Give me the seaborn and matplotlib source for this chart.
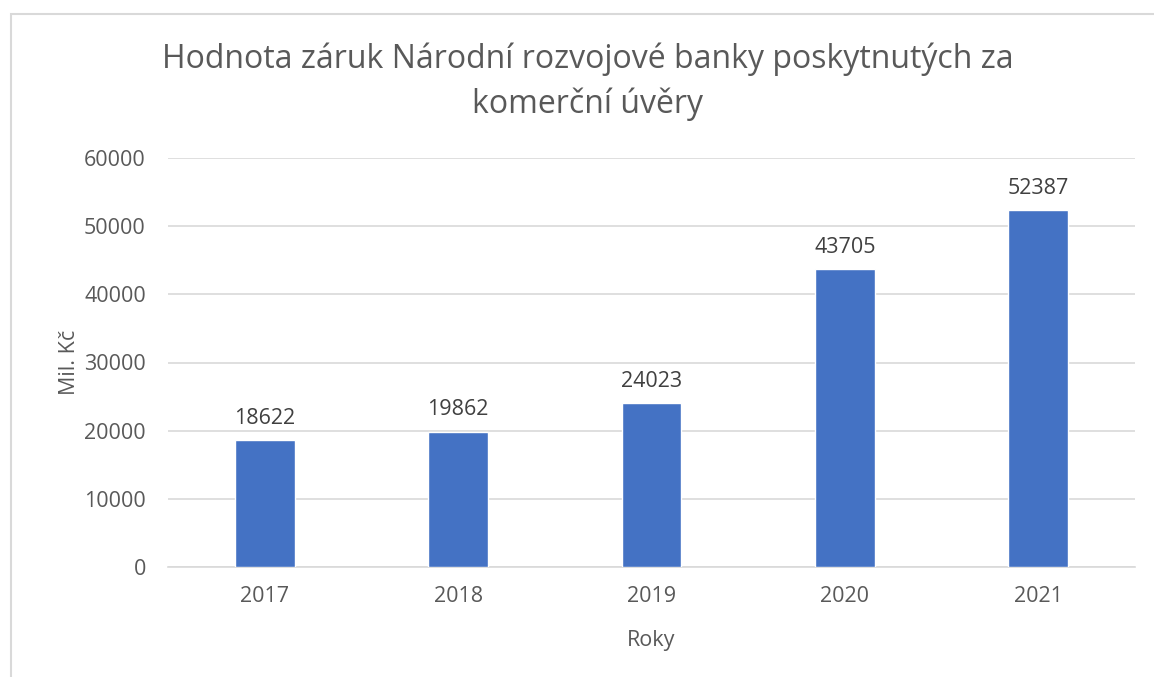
import matplotlib
matplotlib.use("Agg")
import matplotlib.pyplot as plt
import seaborn as sns
import pandas as pd
from matplotlib.patches import Rectangle

years = ["2017", "2018", "2019", "2020", "2021"]
values = [18622, 19862, 24023, 43705, 52387]
yticks = [0, 10000, 20000, 30000, 40000, 50000, 60000]
title = "Hodnota záruk Národní rozvojové banky poskytnutých za\nkomerční úvěry"

sns.set_theme(style="white")
plt.rcParams['font.family'] = ['Open Sans', 'DejaVu Sans']

df = pd.DataFrame({"Rok": years, "Hodnota": values})

fig = plt.figure(figsize=(11.54, 6.77), dpi=100)
ax = fig.add_axes([168/1154, 1-567/677, (1135-168)/1154, (567-158)/677])

sns.barplot(data=df, x="Rok", y="Hodnota", color="#4472c4", width=0.31,
            saturation=1, ax=ax, zorder=3)

ax.set_ylim(0, 60000)
ax.set_xlim(-0.5, 4.5)
ax.set_yticks(yticks)
ax.set_yticklabels([str(t) for t in yticks])
ax.grid(axis="y", color="#d9d9d9", linewidth=1.2, zorder=0)
ax.grid(axis="x", visible=False)
for s in ["top", "right", "left"]:
    ax.spines[s].set_visible(False)
ax.spines["bottom"].set_color("#d9d9d9")
ax.spines["bottom"].set_linewidth(1.2)
ax.tick_params(axis="both", length=0, labelsize=15.5, labelcolor="#595959")
ax.tick_params(axis="y", pad=16)
ax.tick_params(axis="x", pad=14)

for c in ax.containers:
    ax.bar_label(c, labels=[str(v) for v in values], padding=8, fontsize=15.5,
                 color="#404040")

ax.set_xlabel("Roky", fontsize=15.5, color="#595959", labelpad=16)
ax.set_ylabel("Mil. Kč", fontsize=15.5, color="#595959")
ax.yaxis.set_label_coords(-0.091, 0.5)

fig.text(588/1154, 1-82/677, title, ha="center", va="center",
         fontsize=23, color="#595959", linespacing=1.45)

fig.patches.append(Rectangle((11/1154, -0.1), 1.2, 1 - 14/677 + 0.1,
                             transform=fig.transFigure, fill=False,
                             edgecolor="#d9d9d9", linewidth=1.5))

fig.savefig("out.png", dpi=100)
